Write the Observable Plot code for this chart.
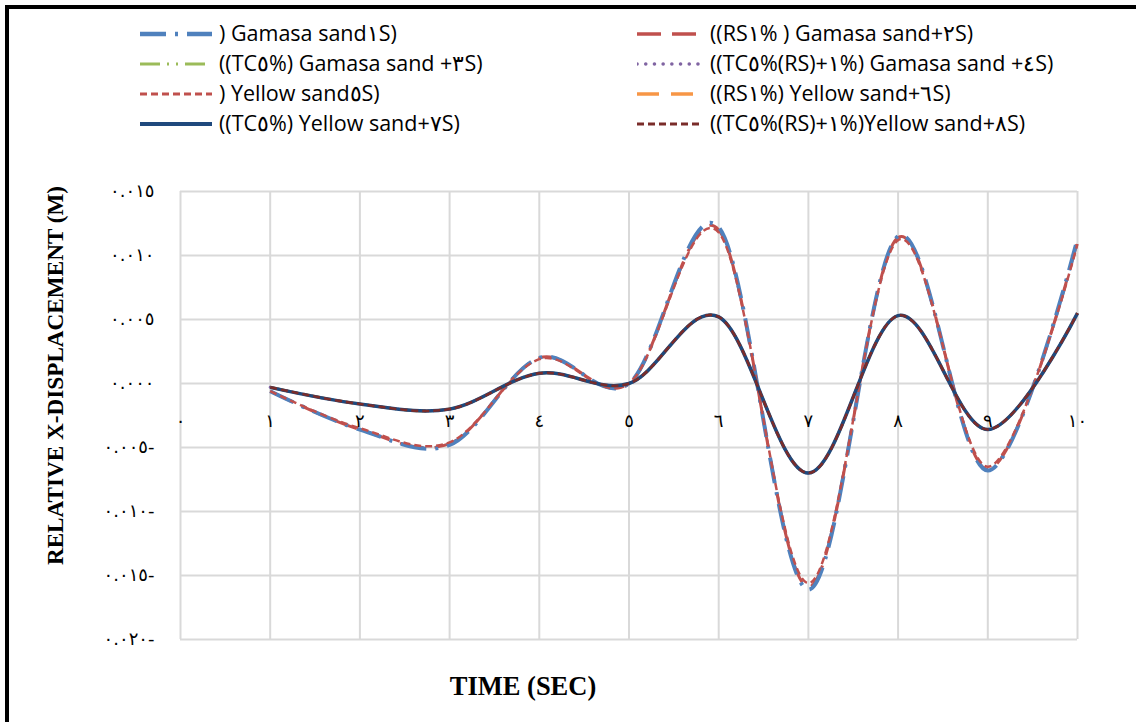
<!DOCTYPE html>
<html><head><meta charset="utf-8">
<script src="https://cdn.jsdelivr.net/npm/d3@7"></script>
<script src="https://cdn.jsdelivr.net/npm/@observablehq/plot@0.6"></script>
<style>
html,body{margin:0;padding:0;background:#fff;}
#wrap{position:relative;width:1136px;height:722px;overflow:hidden;background:#fff;}
#border{position:absolute;left:5px;top:5px;right:-10px;bottom:-10px;border-left:4px solid #000;border-top:4px solid #000;pointer-events:none;}
#legend{position:relative;height:150px;}
#chart svg text{direction:ltr;unicode-bidi:bidi-override;}
#chart g[aria-label="y-axis tick label"] text{font-family:"DejaVu Sans",sans-serif;font-size:18px;letter-spacing:10px;}
</style></head><body>
<div id="wrap"><div id="legend"></div><div id="chart"></div><div id="border"></div></div>
<script>
// ---- data ----
const time = [1, 2, 3, 4, 5, 6, 7, 8, 9, 10];
const s1 = [-0.0006, -0.0036, -0.0048, 0.0020, 0.0000, 0.0122, -0.0161, 0.0115, -0.0068, 0.0113];
const s2 = [-0.0006, -0.0036, -0.0047, 0.0020, 0.0000, 0.0120, -0.0159, 0.0114, -0.0067, 0.0111];
const s3 = [-0.0003, -0.0016, -0.0020, 0.0008, 0.0000, 0.0052, -0.0070, 0.0053, -0.0036, 0.0055];
const s4 = [-0.0003, -0.0016, -0.0020, 0.0008, 0.0000, 0.0052, -0.0070, 0.0053, -0.0036, 0.0055];
const s5 = [-0.0006, -0.0035, -0.0046, 0.0019, 0.0000, 0.0118, -0.0156, 0.0112, -0.0065, 0.0109];
const s6 = [-0.0003, -0.0016, -0.0020, 0.0008, 0.0000, 0.0052, -0.0070, 0.0053, -0.0036, 0.0055];
const s7 = [-0.0003, -0.0016, -0.0020, 0.0008, 0.0000, 0.0052, -0.0070, 0.0053, -0.0036, 0.0055];
const s8 = [-0.0003, -0.0016, -0.0020, 0.0008, 0.0000, 0.0052, -0.0070, 0.0053, -0.0036, 0.0055];
const seriesNames = [
  ") Gamasa sand١S)",
  "((RS١% ) Gamasa sand+٢S)",
  "((TC٥%) Gamasa sand +٣S)",
  "((TC٥%(RS)+١%) Gamasa sand +٤S)",
  ") Yellow sand٥S)",
  "((RS١%) Yellow sand+٦S)",
  "((TC٥%) Yellow sand+٧S)",
  "((TC٥%(RS)+١%)Yellow sand+٨S)"
];
const xTicks = [0, 1, 2, 3, 4, 5, 6, 7, 8, 9, 10];
const xTickLabels = ["٠", "١", "٢", "٣", "٤", "٥", "٦", "٧", "٨", "٩", "١٠"];
const yTicks = [-0.020, -0.015, -0.010, -0.005, 0.000, 0.005, 0.010, 0.015];
const yTickLabels = ["٠.٠٢٠-", "٠.٠١٥-", "٠.٠١٠-", "٠.٠٠٥-", "٠.٠٠٠", "٠.٠٠٥", "٠.٠١٠", "٠.٠١٥"];
const yTitle = "RELATIVE X-DISPLACEMENT (M)";
const xTitle = "TIME (SEC)";

// ---- styles ----
const values = [s1, s2, s3, s4, s5, s6, s7, s8];
const styles = [
  {stroke: "#4F81BD", strokeWidth: 4, dash: "26 9 3 9", cap: "butt"},
  {stroke: "#C0504D", strokeWidth: 3, dash: "24 11", cap: "butt"},
  {stroke: "#9BBB59", strokeWidth: 2.5, dash: "20 7 2 7 2 7", cap: "butt"},
  {stroke: "#8064A2", strokeWidth: 3, dash: "0.1 8.6", cap: "round"},
  {stroke: "#C0504D", strokeWidth: 2.5, dash: "7 4", cap: "butt"},
  {stroke: "#F79646", strokeWidth: 3, dash: "22 12", cap: "butt"},
  {stroke: "#1F497D", strokeWidth: 3.5, dash: null, cap: "butt"},
  {stroke: "#7A2C2A", strokeWidth: 2.5, dash: "7 4", cap: "butt"}
];
const drawOrder = [1, 0, 4, 2, 3, 5, 6, 7];

// ---- legend ----
const legend = document.getElementById("legend");
const rowsY = [34, 64, 94, 124];
const cols = [{sx: 140, sw: 72, tx: 219}, {sx: 637, sw: 66, tx: 710}];
seriesNames.forEach((name, i) => {
  const r = Math.floor(i / 2), c = i % 2, st = styles[i], col = cols[c];
  const sv = `<svg width="${col.sw}" height="10" style="position:absolute;left:${col.sx}px;top:${rowsY[r]-5}px"><line x1="0" x2="${col.sw}" y1="5" y2="5" stroke="${st.stroke}" stroke-width="${st.strokeWidth+0.5}" ${st.dash ? `stroke-dasharray="${st.dash}"` : ""} stroke-linecap="${st.cap}"/></svg>`;
  const tx = `<span style="position:absolute;left:${col.tx}px;top:${rowsY[r]-16}px;line-height:30px;font-family:'Open Sans',sans-serif;font-size:21.5px;color:#000;direction:ltr;unicode-bidi:bidi-override;white-space:pre">${name}</span>`;
  legend.insertAdjacentHTML("beforeend", sv + tx);
});

// ---- chart ----
const lineMarks = drawOrder.map(i => {
  const data = time.map((t, k) => ({t, v: values[i][k]}));
  const st = styles[i];
  return Plot.line(data, {
    x: "t", y: "v", curve: "cardinal", tension: 0,
    stroke: st.stroke, strokeWidth: st.strokeWidth,
    strokeDasharray: st.dash || undefined, strokeLinecap: st.cap, strokeLinejoin: "round"
  });
});

const chart = Plot.plot({
  width: 1136, height: 572,
  marginLeft: 180, marginRight: 59, marginTop: 41, marginBottom: 83,
  x: {domain: [0, 10]},
  y: {domain: [-0.020, 0.015]},
  style: {background: "transparent", color: "#000"},
  marks: [
    Plot.gridY(yTicks, {stroke: "#D9D9D9", strokeWidth: 2, strokeOpacity: 1}),
    Plot.gridX(xTicks, {stroke: "#D9D9D9", strokeWidth: 2, strokeOpacity: 1}),
    Plot.axisY(yTicks, {tickSize: 0, tickPadding: 26, label: null,
      tickFormat: d => yTickLabels[yTicks.indexOf(d)]}),
    Plot.axisX({ticks: [], label: null, tickSize: 0}),
    ...lineMarks,
    Plot.text(xTicks, {x: d => d, y: 0, dy: 38, text: (d, i) => xTickLabels[i],
      fontFamily: "DejaVu Sans", fontSize: 18, fill: "#000"}),
    Plot.text([yTitle], {frameAnchor: "left", rotate: -90, dx: -125, dy: -40,
      textAnchor: "middle", lineAnchor: "middle",
      fontFamily: "Liberation Serif", fontWeight: "bold", fontSize: 23.2, fill: "#000"}),
    Plot.text([xTitle], {frameAnchor: "bottom", dx: -106, dy: 47,
      textAnchor: "middle", lineAnchor: "middle",
      fontFamily: "Liberation Serif", fontWeight: "bold", fontSize: 26.5, fill: "#000"})
  ]
});
document.getElementById("chart").appendChild(chart);
</script>
</body></html>
